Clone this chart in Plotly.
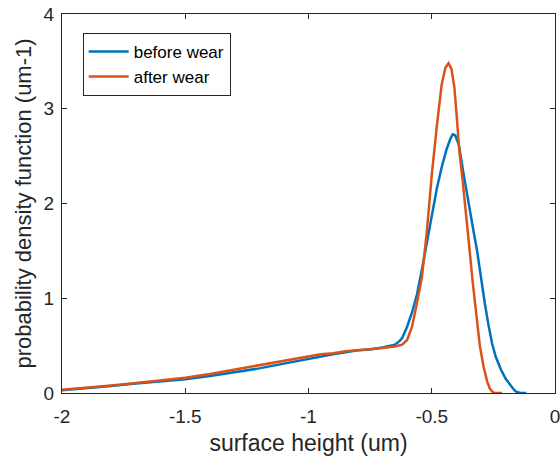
import plotly.graph_objects as go

# ---- data ----
before_x = [-2.0, -1.9, -1.8, -1.7, -1.6, -1.5, -1.4, -1.3, -1.2, -1.1, -1.0, -0.95, -0.9, -0.85,
            -0.8, -0.75, -0.7, -0.65, -0.63, -0.62, -0.6, -0.58, -0.56, -0.54, -0.52, -0.5,
            -0.48, -0.46, -0.44, -0.425, -0.415, -0.405, -0.39, -0.37, -0.35, -0.33, -0.316,
            -0.3, -0.285, -0.27, -0.255, -0.24, -0.22, -0.2, -0.18, -0.165, -0.155, -0.14, -0.116]
before_y = [0.03, 0.05, 0.075, 0.1, 0.125, 0.145, 0.18, 0.22, 0.26, 0.31, 0.36, 0.39, 0.41, 0.43,
            0.45, 0.46, 0.48, 0.51, 0.55, 0.58, 0.7, 0.85, 1.04, 1.3, 1.58, 1.88,
            2.15, 2.38, 2.57, 2.68, 2.73, 2.72, 2.62, 2.3, 1.98, 1.7, 1.5,
            1.2, 0.95, 0.72, 0.52, 0.38, 0.25, 0.15, 0.08, 0.03, 0.01, 0.0, 0.0]

after_x = [-2.0, -1.9, -1.8, -1.7, -1.6, -1.5, -1.4, -1.3, -1.2, -1.1, -1.0, -0.95, -0.9, -0.85,
           -0.8, -0.75, -0.7, -0.65, -0.62, -0.6, -0.58, -0.56, -0.54, -0.52, -0.5, -0.48,
           -0.46, -0.445, -0.432, -0.42, -0.408, -0.398, -0.388, -0.375, -0.36, -0.348,
           -0.335, -0.32, -0.305, -0.29, -0.275, -0.265, -0.255, -0.245, -0.215]
after_y = [0.035, 0.055, 0.08, 0.105, 0.13, 0.16, 0.2, 0.245, 0.29, 0.335, 0.385, 0.41, 0.42, 0.44,
           0.45, 0.46, 0.475, 0.49, 0.51, 0.56, 0.7, 0.95, 1.22, 1.7, 2.3, 2.8,
           3.25, 3.43, 3.48, 3.42, 3.22, 2.9, 2.55, 2.25, 1.9, 1.55,
           1.2, 0.82, 0.5, 0.28, 0.12, 0.05, 0.015, 0.0, 0.0]

series_names = ["before wear", "after wear"]
x_tick_vals = [-2, -1.5, -1, -0.5, 0]
x_tick_text = ["-2", "-1.5", "-1", "-0.5", "0"]
y_tick_vals = [0, 1, 2, 3, 4]
y_tick_text = ["0", "1", "2", "3", "4"]

BLUE = "#0072BD"
ORANGE = "#D95319"
AX = "#262626"
FONT = "Liberation Sans, Arial, sans-serif"

fig = go.Figure()
fig.add_trace(go.Scatter(x=before_x, y=before_y, mode="lines", name=series_names[0],
                         line=dict(color=BLUE, width=2.5)))
fig.add_trace(go.Scatter(x=after_x, y=after_y, mode="lines", name=series_names[1],
                         line=dict(color=ORANGE, width=2.5)))

axis_common = dict(showgrid=False, zeroline=False, showline=True, linecolor=AX, linewidth=1,
                   mirror="ticks", ticks="inside", ticklen=5, tickcolor=AX, tickwidth=1,
                   tickfont=dict(family=FONT, size=19, color=AX))

fig.update_xaxes(range=[-2, 0], tickvals=x_tick_vals, ticktext=x_tick_text,
                 ticklabelstandoff=6, ticklabeloverflow="allow",
                 title=dict(text="surface height (um)", font=dict(family=FONT, size=23, color=AX),
                            standoff=9),
                 **axis_common)
fig.update_yaxes(range=[0, 4], tickvals=y_tick_vals, ticktext=y_tick_text,
                 ticklabelstandoff=3,
                 title=dict(text="probability density function (um-1)",
                            font=dict(family=FONT, size=22, color=AX), standoff=5),
                 **axis_common)

fig.update_layout(
    width=560, height=461,
    margin=dict(l=62, r=0, t=14, b=68),
    paper_bgcolor="white", plot_bgcolor="white",
    font=dict(family=FONT, color=AX),
    legend=dict(x=0.042, y=0.95, xanchor="left", yanchor="top",
                bgcolor="white", bordercolor=AX, borderwidth=1,
                font=dict(family=FONT, size=17, color="#000000"),
                tracegroupgap=0, itemwidth=40),
    showlegend=True,
)

fig.write_html("out.html")
